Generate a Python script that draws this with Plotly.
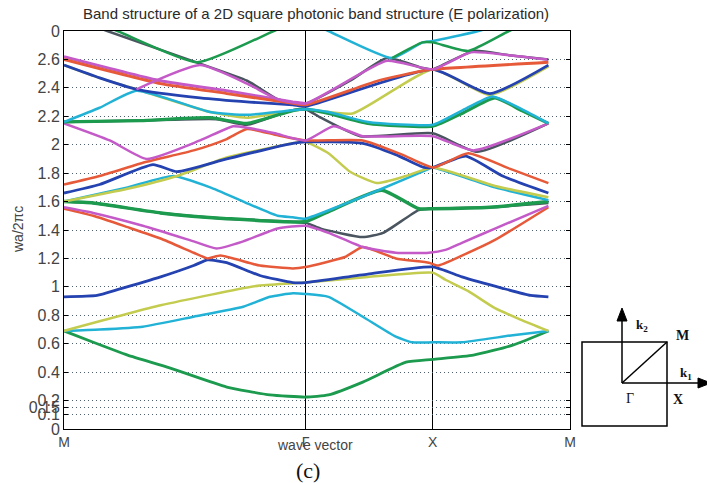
import plotly.graph_objects as go

# ---- path nodes (k in units where |Gamma-X| = 1) ----
K_M, K_G, K_X, K_END = 0.0, 1.90, 2.90, 3.98
x_tickvals = [K_M, K_G, K_X, K_END]
x_ticktext = ["M", "Γ", "X", "M"]
y_tickvals = [0, 0.1, 0.15, 0.2, 0.4, 0.6, 0.8, 1.0, 1.2, 1.4, 1.6, 1.8, 2.0, 2.2, 2.4, 2.6, 2.8]
y_ticktext = ["0", "0.1", "0.15", "0.2", "0.4", "0.6", "0.8", "1", "1.2", "1.4", "1.6", "1.8", "2", "2.2", "2.4", "2.6", "0"]

# ---- bands (k, normalized frequency wa/2pic) ----
k_green1 = [0, 0.23, 0.50, 0.83, 1.28, 1.62, 1.90, 2.08, 2.35, 2.69, 2.90, 3.22, 3.53, 3.81]
w_green1 = [0.69, 0.61, 0.52, 0.43, 0.295, 0.24, 0.225, 0.24, 0.33, 0.47, 0.49, 0.52, 0.59, 0.69]
k_cyan1 = [0, 0.28, 0.62, 1.02, 1.41, 1.62, 1.80, 1.90, 2.08, 2.35, 2.61, 2.74, 2.90, 3.13, 3.53, 3.81]
w_cyan1 = [0.69, 0.70, 0.72, 0.79, 0.86, 0.93, 0.955, 0.95, 0.93, 0.79, 0.65, 0.61, 0.61, 0.61, 0.66, 0.69]
k_yellow1 = [0, 0.76, 1.54, 1.90, 2.39, 2.90, 3.00, 3.18, 3.39, 3.59, 3.81]
w_yellow1 = [0.69, 0.87, 1.01, 1.03, 1.07, 1.10, 1.05, 0.97, 0.85, 0.77, 0.69]
k_blue1 = [0, 0.26, 0.42, 0.76, 1.02, 1.13, 1.28, 1.54, 1.80, 1.90, 2.39, 2.90, 3.13, 3.45, 3.67, 3.81]
w_blue1 = [0.93, 0.94, 0.98, 1.07, 1.15, 1.19, 1.17, 1.08, 1.03, 1.03, 1.09, 1.14, 1.07, 0.99, 0.94, 0.93]
k_red1 = [0, 0.23, 0.50, 0.76, 1.02, 1.13, 1.23, 1.54, 1.80, 1.90, 2.21, 2.35, 2.61, 2.87, 2.94, 3.13, 3.39, 3.81]
w_red1 = [1.55, 1.50, 1.42, 1.34, 1.24, 1.20, 1.22, 1.15, 1.13, 1.14, 1.21, 1.28, 1.20, 1.17, 1.15, 1.22, 1.33, 1.56]
k_magenta1 = [0, 0.23, 0.62, 1.02, 1.20, 1.41, 1.68, 1.90, 2.08, 2.35, 2.61, 2.87, 3.00, 3.13, 3.39, 3.81]
w_magenta1 = [1.56, 1.52, 1.43, 1.32, 1.27, 1.32, 1.41, 1.43, 1.38, 1.28, 1.24, 1.24, 1.26, 1.31, 1.41, 1.57]
k_gray1 = [0, 0.23, 0.76, 1.28, 1.90, 2.02, 2.35, 2.51, 2.79, 2.90, 3.35, 3.81]
w_gray1 = [1.60, 1.59, 1.52, 1.48, 1.45, 1.41, 1.35, 1.38, 1.54, 1.55, 1.56, 1.59]
k_green2 = [0, 0.23, 0.76, 1.28, 1.90, 2.08, 2.50, 2.79, 2.90, 3.35, 3.81]
w_green2 = [1.60, 1.59, 1.52, 1.48, 1.46, 1.53, 1.68, 1.55, 1.55, 1.56, 1.60]
k_cyan2 = [0, 0.50, 0.86, 1.15, 1.41, 1.68, 1.80, 1.90, 2.17, 2.50, 2.87, 2.90, 3.39, 3.81]
w_cyan2 = [1.60, 1.70, 1.78, 1.70, 1.60, 1.50, 1.49, 1.48, 1.57, 1.69, 1.83, 1.84, 1.70, 1.61]
k_yellow2 = [0, 0.50, 0.89, 1.28, 1.80, 1.90, 2.08, 2.25, 2.46, 2.69, 2.90, 3.39, 3.81]
w_yellow2 = [1.60, 1.69, 1.78, 1.91, 2.01, 2.02, 1.94, 1.81, 1.73, 1.78, 1.84, 1.71, 1.63]
k_blue2 = [0, 0.28, 0.70, 0.89, 1.28, 1.80, 1.90, 2.35, 2.61, 2.83, 2.90, 3.16, 3.45, 3.81]
w_blue2 = [1.66, 1.72, 1.86, 1.81, 1.90, 2.01, 2.02, 2.01, 1.93, 1.84, 1.84, 1.92, 1.78, 1.66]
k_red2 = [0, 0.28, 0.65, 1.02, 1.28, 1.44, 1.66, 1.90, 2.35, 2.66, 2.90, 3.18, 3.51, 3.81]
w_red2 = [1.72, 1.78, 1.88, 1.96, 2.04, 2.11, 2.07, 2.03, 2.03, 1.93, 1.84, 1.94, 1.83, 1.73]
k_magenta2 = [0, 0.36, 0.65, 1.07, 1.33, 1.44, 1.66, 1.90, 2.12, 2.35, 2.90, 3.22, 3.81]
w_magenta2 = [2.15, 2.03, 1.90, 2.03, 2.13, 2.12, 2.08, 2.03, 2.13, 2.06, 2.06, 1.96, 2.15]
k_gray2 = [0, 0.60, 1.20, 1.44, 1.78, 1.90, 2.02, 2.33, 2.90, 3.25, 3.81]
w_gray2 = [2.16, 2.17, 2.18, 2.14, 2.24, 2.25, 2.19, 2.06, 2.08, 1.95, 2.15]
k_green3 = [0, 0.60, 1.15, 1.44, 1.80, 1.90, 2.08, 2.39, 2.90, 3.13, 3.39, 3.60, 3.81]
w_green3 = [2.16, 2.17, 2.19, 2.15, 2.24, 2.25, 2.22, 2.15, 2.13, 2.22, 2.33, 2.24, 2.15]
k_cyan3 = [0, 0.28, 0.57, 1.15, 1.44, 1.90, 2.08, 2.39, 2.90, 3.13, 3.37, 3.60, 3.81]
w_cyan3 = [2.16, 2.26, 2.38, 2.23, 2.21, 2.25, 2.23, 2.16, 2.14, 2.24, 2.34, 2.25, 2.15]
k_yellow3 = [0, 0.28, 0.57, 1.15, 1.44, 1.80, 1.90, 2.27, 2.90, 3.35, 3.81]
w_yellow3 = [2.56, 2.47, 2.39, 2.23, 2.19, 2.24, 2.25, 2.22, 2.53, 2.35, 2.55]
k_blue3 = [0, 0.28, 0.57, 1.07, 1.46, 1.80, 1.90, 2.90, 3.35, 3.81]
w_blue3 = [2.56, 2.47, 2.39, 2.33, 2.30, 2.28, 2.27, 2.53, 2.36, 2.56]
k_magenta3 = [0, 0.76, 1.28, 1.80, 1.90]
w_magenta3 = [2.62, 2.45, 2.38, 2.30, 2.29]
k_red3 = [0, 0.76, 1.28, 1.80, 1.90, 2.47, 2.82, 2.90, 3.81]
w_red3 = [2.60, 2.43, 2.36, 2.29, 2.28, 2.45, 2.52, 2.53, 2.58]
k_gray3 = [0, 0.34, 1.07, 1.44, 1.68, 1.78, 1.90, 2.25, 2.54, 2.82, 2.90, 3.22, 3.50, 3.81]
w_gray3 = [2.91, 2.80, 2.57, 2.45, 2.32, 2.30, 2.29, 2.45, 2.61, 2.54, 2.53, 2.66, 2.63, 2.60]
k_magenta4 = [0.57, 1.07, 1.44, 1.68, 1.90, 2.54, 2.90, 3.20, 3.50, 3.80]
w_magenta4 = [2.39, 2.56, 2.43, 2.32, 2.29, 2.59, 2.53, 2.65, 2.63, 2.60]
k_green4 = [0, 0.42, 1.05, 1.65, 1.90]
w_green4 = [2.95, 2.80, 2.58, 2.80, 2.89]
k_cyan4 = [1.90, 2.08, 2.58, 2.82, 2.90, 3.26, 3.81]
w_cyan4 = [2.87, 2.80, 2.61, 2.72, 2.73, 2.80, 2.95]
k_green5 = [2.58, 2.82, 2.90, 3.18, 3.50, 3.81]
w_green5 = [2.61, 2.72, 2.72, 2.66, 2.80, 2.92]

GREEN, CYAN, YELLOW = "#1c9a4e", "#22b2d6", "#c3cc4e"
BLUE, RED, MAGENTA, GRAY = "#2442b0", "#e65a3a", "#c45ac8", "#4a5560"

bands = [
    (k_gray1, w_gray1, GRAY, 2.5), (k_gray2, w_gray2, GRAY, 2.5), (k_gray3, w_gray3, GRAY, 2.5),
    (k_yellow3, w_yellow3, YELLOW, 2.5), (k_magenta3, w_magenta3, MAGENTA, 3),
    (k_green1, w_green1, GREEN, 2.8), (k_cyan1, w_cyan1, CYAN, 2.5), (k_yellow1, w_yellow1, YELLOW, 2.5),
    (k_blue1, w_blue1, BLUE, 2.8), (k_red1, w_red1, RED, 2.5), (k_magenta1, w_magenta1, MAGENTA, 2.5),
    (k_green2, w_green2, GREEN, 3.5), (k_cyan2, w_cyan2, CYAN, 2.5), (k_yellow2, w_yellow2, YELLOW, 2.5),
    (k_blue2, w_blue2, BLUE, 2.8), (k_red2, w_red2, RED, 2.5), (k_magenta2, w_magenta2, MAGENTA, 2.5),
    (k_green3, w_green3, GREEN, 3.2), (k_cyan3, w_cyan3, CYAN, 2.5),
    (k_blue3, w_blue3, BLUE, 2.8), (k_red3, w_red3, RED, 2.8), (k_magenta4, w_magenta4, MAGENTA, 2.5),
    (k_green4, w_green4, GREEN, 2.5), (k_cyan4, w_cyan4, CYAN, 2.5), (k_green5, w_green5, GREEN, 2.5),
]

fig = go.Figure()
for k, w, c, lw in bands:
    fig.add_trace(go.Scatter(x=k, y=w, mode="lines", showlegend=False, hoverinfo="skip",
                             line=dict(color=c, width=lw, shape="spline", smoothing=0.5)))

TXT = "#2a2a2a"
fig.update_layout(
    width=707, height=483,
    margin=dict(l=64, r=137, t=31, b=54),
    paper_bgcolor="white", plot_bgcolor="white",
    font=dict(family="Liberation Sans, Arial, sans-serif", size=14, color=TXT),
    title=dict(text="Band structure of a 2D square photonic band structure (E polarization)",
               x=0.447, xanchor="center", y=1 - 14 / 483, yanchor="middle", yref="container",
               font=dict(size=15, color=TXT)),
    xaxis=dict(range=[0, K_END], tickvals=x_tickvals, ticktext=x_ticktext,
               showgrid=True, gridcolor="black", gridwidth=1, griddash="solid",
               showline=True, linecolor="black", linewidth=1, mirror=True,
               ticks="", zeroline=False, tickfont=dict(size=14, color="#444")),
    yaxis=dict(range=[0, 2.8], tickvals=y_tickvals, ticktext=y_ticktext,
               showgrid=True, gridcolor="#50606e", gridwidth=1, griddash="1px,3px",
               showline=True, linecolor="black", linewidth=1, mirror="ticks",
               ticks="inside", ticklen=4, tickcolor="black", zeroline=False,
               tickfont=dict(size=16, color="#444")),
)

def px(x):
    return (x - 64) / 506

def py(y):
    return (429 - y) / 398

ann = [
    dict(text="wave vector", x=px(315), y=py(445), font=dict(size=14, color="#444")),
    dict(text="wa/2πc", x=px(18), y=py(230), textangle=-90, font=dict(size=14, color="#444")),
    dict(text="(c)", x=px(308), y=py(470), font=dict(size=22, family="Liberation Serif, Times New Roman, serif", color="#111")),
    dict(text="<b>k<sub>2</sub></b>", x=px(642), y=py(325), font=dict(size=13, family="Liberation Serif, serif", color="#111")),
    dict(text="<b>M</b>", x=px(682), y=py(335), font=dict(size=14, family="Liberation Serif, serif", color="#111")),
    dict(text="<b>k<sub>1</sub></b>", x=px(686), y=py(373), font=dict(size=13, family="Liberation Serif, serif", color="#111")),
    dict(text="Γ", x=px(630), y=py(398), font=dict(size=14, family="Liberation Serif, serif", color="#111")),
    dict(text="<b>X</b>", x=px(678), y=py(399), font=dict(size=14, family="Liberation Serif, serif", color="#111")),
]
for a in ann:
    a.update(xref="paper", yref="paper", showarrow=False, xanchor="center", yanchor="middle")
    fig.add_annotation(**a)

# inset Brillouin-zone sketch
L = dict(color="black", width=1.5)
shapes = [
    dict(type="rect", x0=px(582), x1=px(667), y0=py(426), y1=py(342), line=L),
    dict(type="line", x0=px(622), y0=py(383), x1=px(622), y1=py(318), line=L),
    dict(type="line", x0=px(622), y0=py(383), x1=px(700), y1=py(383), line=L),
    dict(type="line", x0=px(622), y0=py(383), x1=px(667), y1=py(342), line=L),
    dict(type="path", path=f"M {px(622)} {py(308)} L {px(617)} {py(321)} L {px(627)} {py(321)} Z",
         fillcolor="black", line=dict(color="black", width=1)),
    dict(type="path", path=f"M {px(711)} {py(383)} L {px(698)} {py(378)} L {px(698)} {py(388)} Z",
         fillcolor="black", line=dict(color="black", width=1)),
]
for s in shapes:
    s.update(xref="paper", yref="paper")
    fig.add_shape(**s)

fig.write_html("out.html")
